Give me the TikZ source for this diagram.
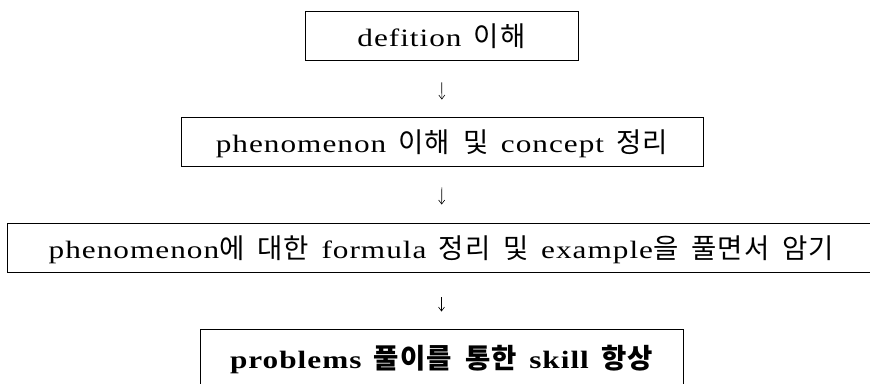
\documentclass[tikz,border=0pt]{standalone}
\usepackage{fontspec}
\setmainfont{Liberation Serif}[FakeStretch=1.25, LetterSpace=4, WordSpace=1.4]
\newfontfamily\kr{Noto Sans CJK KR}[LetterSpace=4, Scale=1.1, WordSpace=1.8]
\usetikzlibrary{arrows.meta}
\tikzset{
  stepbox/.style={draw=black, line width=0.9pt, inner sep=0pt, align=center,
    text height=25pt, text depth=3pt,
    font=\fontsize{25}{30}\selectfont},
  flow/.style={-{Straight Barb[length=4pt,width=6pt]}, line width=0.6pt}
}
\begin{document}
\begin{tikzpicture}
\useasboundingbox (0pt,0pt) rectangle (870pt,-383pt);
\node[stepbox, minimum width=273pt, minimum height=49pt] (b1) at (441.5pt,-35.5pt)
  {defition {\kr 이해}};
\node[stepbox, minimum width=522pt, minimum height=49pt] (b2) at (442pt,-141.5pt)
  {phenomenon {\kr 이해 및} concept {\kr 정리}};
\node[stepbox, minimum width=869pt, minimum height=49pt] (b3) at (441.5pt,-247.5pt)
  {phenomenon{\kr 에 대한} formula {\kr 정리 및} example{\kr 을 풀면서 암기}};
\node[stepbox, minimum width=483pt, minimum height=56pt, font=\fontsize{25}{30}\selectfont\bfseries] (b4) at (441.5pt,-357pt)
  {problems {\kr 풀이를 통한} skill {\kr 항상}};
\draw[flow, shorten <=22pt, shorten >=17pt] (b1.south) -- (b2.north);
\draw[flow, shorten <=21pt, shorten >=18pt] (b2.south) -- (b3.north);
\draw[flow, shorten <=25pt, shorten >=17pt] (b3.south) -- (b4.north);
\end{tikzpicture}
\end{document}
